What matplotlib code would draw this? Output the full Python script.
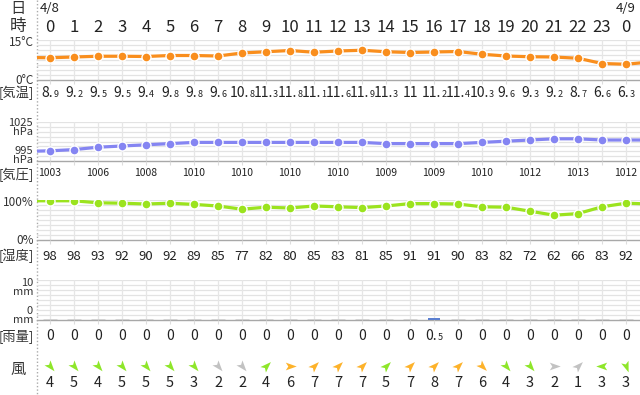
import matplotlib
matplotlib.use("Agg")
import matplotlib.pyplot as plt
import numpy as np
from matplotlib.offsetbox import TextArea, HPacker, AnnotationBbox
from matplotlib.path import Path
from matplotlib.markers import MarkerStyle
import matplotlib.transforms as mtrans

plt.rcParams['font.family'] = ['Noto Sans CJK JP', 'DejaVu Sans']

# ---------------- data ----------------
hours = list(range(25))
hour_labels = [str(h % 24) for h in range(25)]
date_labels = {0: "4/8", 24: "4/9"}

temp = [8.9, 9.2, 9.5, 9.5, 9.4, 9.8, 9.8, 9.6, 10.8, 11.3, 11.8, 11.1, 11.6,
        11.9, 11.3, 11.0, 11.2, 11.4, 10.3, 9.6, 9.3, 9.2, 8.7, 6.6, 6.3]
temp_prev, temp_next = 9.0, 7.2

pressure = [1003, 1004, 1006, 1007, 1008, 1009, 1010, 1010, 1010, 1010, 1010, 1010, 1010,
            1010, 1009, 1009, 1009, 1009, 1010, 1011, 1012, 1013, 1013, 1012, 1012]
pressure_prev, pressure_next = 1002.5, 1012

humidity = [98, 98, 93, 92, 90, 92, 89, 85, 77, 82, 80, 85, 83, 81, 85, 91, 91,
            90, 83, 82, 72, 62, 66, 83, 92]
humidity_prev, humidity_next = 98, 90

rain = [0, 0, 0, 0, 0, 0, 0, 0, 0, 0, 0, 0, 0, 0, 0, 0, 0.5, 0, 0, 0, 0, 0, 0, 0, 0]

wind_speed = [4, 5, 4, 5, 5, 5, 3, 2, 2, 4, 6, 7, 7, 7, 5, 7, 8, 7, 6, 4, 3, 2, 1, 3, 3]
# direction the arrow points, degrees counter-clockwise from east
wind_dir = [-50, -50, -50, -50, -50, -50, -50, -50, -50, 45, 0, 45, 45, 45, 45, 45,
            45, 45, -45, -50, -50, 0, 45, 180, -70]

# ---------------- layout helpers ----------------
W, H = 640, 395
fig = plt.figure(figsize=(W / 100, H / 100), dpi=100)
fig.patch.set_facecolor('white')

def hx(px):
    return (px - 50) / 24.0

ov = fig.add_axes([0, 0, 1, 1])
ov.set_xlim(hx(0), hx(W))
ov.set_ylim(H, 0)
ov.axis('off')

PX0 = 37
XL = (hx(PX0), hx(W))

def panel(top, bottom, ylim, nint=8):
    ax = fig.add_axes([PX0 / W, 1 - bottom / H, (W - PX0) / W, (bottom - top) / H])
    ax.set_xlim(*XL)
    ax.set_ylim(*ylim)
    for s in ax.spines.values():
        s.set_visible(False)
    ax.set_facecolor('none')
    ax.set_yticks([])
    ax.set_xticks(hours)
    ax.tick_params(axis='x', length=3, color='#dddddd', labelbottom=False)
    for y in np.linspace(ylim[0], ylim[1], nint + 1)[1:]:
        ax.axhline(y, color='#e3e3e3', lw=0.9, zorder=0)
    ax.axhline(ylim[0], color='#a8a8a8', lw=1.0, zorder=1, clip_on=False)
    for h in hours:
        ax.axvline(h, color='#e6e6e6', lw=0.9, zorder=0)
    return ax

TEXT = '#222222'

def line_panel(ax, vals, prev, nxt, color):
    xs = [-1] + hours + [25]
    ys = [prev] + vals + [nxt]
    ax.plot(xs, ys, color=color, lw=2.3, zorder=3, solid_capstyle='butt')
    ax.plot(hours, vals, 'o', ms=6.5, mfc=color, mec='white', mew=1.0, zorder=4)

# temperature
axT = panel(40, 80, (0, 16))
line_panel(axT, temp, temp_prev, temp_next, '#f98e1d')
# pressure
axP = panel(122, 161, (994.5, 1027))
line_panel(axP, pressure, pressure_prev, pressure_next, '#8585f2')
# humidity
axH = panel(200, 240, (0, 100))
line_panel(axH, humidity, humidity_prev, humidity_next, '#9be31e')
# rain
axR = panel(280, 320, (0, 10))
for h, r in zip(hours, rain):
    if r > 0:
        axR.bar(h, r, width=0.5, color='#5b7fd0', zorder=3)
    else:
        axR.hlines(r, h - 0.3, h + 0.3, color='#d0d0d0', lw=2, zorder=3)

# dotted separator
ov.plot([hx(PX0), hx(PX0)], [0, H], color='#aaaaaa', lw=1, ls=(0, (1, 1.5)))

# ---------------- text rows ----------------
def lab(x_px, y, s, size, ha='right', color='#333333', **kw):
    ov.text(hx(x_px), y, s, fontsize=size, ha=ha, va='center', color=color, **kw)

lab(18, 8, "日", 11, ha='center')
lab(18, 27, "時", 12, ha='center')
lab(34, 43, "15°C", 8.5)
lab(34, 80, "0°C", 8.5)
lab(34, 93, "[気温]", 9.5)
lab(33, 123, "1025", 8)
lab(33, 132, "hPa", 8)
lab(33, 151, "995", 8)
lab(33, 160, "hPa", 8)
lab(34, 175, "[気圧]", 9.5)
lab(34, 203, "100%", 8.5)
lab(34, 241, "0%", 8.5)
lab(34, 256, "[湿度]", 9.5)
lab(33, 283, "10", 8)
lab(33, 292, "mm", 8)
lab(33, 311, "0", 8)
lab(33, 320, "mm", 8)
lab(34, 336, "[雨量]", 9.5)
lab(18, 369, "風", 11, ha='center')

for h, s in date_labels.items():
    ov.text(h, 9, s, fontsize=9.5, ha='center', va='center', color=TEXT)
for h, s in zip(hours, hour_labels):
    ov.text(h, 27, s, fontsize=12, ha='center', va='center', color=TEXT)

def split_label(h, v, y, big, small):
    s = f"{v:.1f}"
    ip, dp = s.split('.')
    if dp != '0':
        kids = [TextArea(ip + '.', textprops=dict(size=big, color=TEXT)),
                TextArea(dp, textprops=dict(size=small, color=TEXT))]
    else:
        kids = [TextArea(ip, textprops=dict(size=big, color=TEXT))]
    pack = HPacker(children=kids, align='baseline', pad=0, sep=0)
    ab = AnnotationBbox(pack, (h, y), xycoords='data', frameon=False,
                        box_alignment=(0.5, 0.5), pad=0)
    ov.add_artist(ab)

for h, v in zip(hours, temp):
    split_label(h, v, 93, 10, 6.5)

for h, v in zip(hours, pressure):
    if h % 2 == 0:
        ov.text(h, 173, str(v), fontsize=7.5, ha='center', va='center', color=TEXT)

for h, v in zip(hours, humidity):
    ov.text(h, 256, str(v), fontsize=9.5, ha='center', va='center', color=TEXT)

for h, v in zip(hours, rain):
    if v == 0:
        ov.text(h, 336, "0", fontsize=10, ha='center', va='center', color=TEXT)
    else:
        split_label(h, v, 336, 10, 6.5)

arrow = Path([(1, 0), (-0.75, 0.62), (-0.35, 0), (-0.75, -0.62), (1, 0)],
             [Path.MOVETO, Path.LINETO, Path.LINETO, Path.LINETO, Path.CLOSEPOLY])

def wcol(s):
    if s <= 2:
        return '#c2c2c2'
    if s <= 5:
        return '#8ee62a'
    return '#fdb22a'

for h, s, d in zip(hours, wind_speed, wind_dir):
    m = MarkerStyle(arrow, transform=mtrans.Affine2D().rotate_deg(d))
    ov.plot(h, 366, marker=m, ms=9, color=wcol(s), mec='none', ls='none')
    ov.text(h, 383, str(s), fontsize=10.5, ha='center', va='center', color=TEXT)

fig.savefig("out.png", dpi=100, facecolor='white')
